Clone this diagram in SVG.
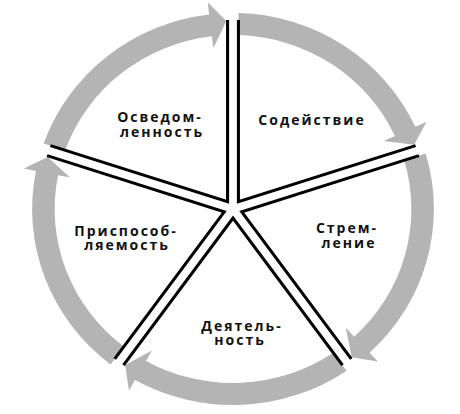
<svg xmlns="http://www.w3.org/2000/svg" width="460" height="414" viewBox="0 0 460 414">
<defs>
<style>
.arr{fill:#b4b4b4;stroke:none}
.edge{fill:none;stroke:#000;stroke-width:3;stroke-linejoin:miter;stroke-miterlimit:10}
.lbl{font-family:"Open Sans","DejaVu Sans",sans-serif;font-weight:700;font-size:14px;letter-spacing:2px;fill:#111;text-anchor:middle}
</style>
<path id="arrow" d="M-184.70,-65.59 A196,196 0 0 1 -23.21,-194.62 L-24.63,-206.54 L-6.5,-188 L-19.18,-160.86 L-20.60,-172.78 A174,174 0 0 0 -163.77,-58.79 Z"/>
<polyline id="sector" points="5.3,-189 5.29,-7.28 178.11,-63.44"/>
</defs>
<rect width="460" height="414" fill="#fff"/>
<g id="connectors" transform="translate(233,209) scale(1.025,1)">
<use href="#arrow" class="arr"/>
<use href="#arrow" class="arr" transform="rotate(72)"/>
<use href="#arrow" class="arr" transform="rotate(144)"/>
<use href="#arrow" class="arr" transform="rotate(216)"/>
<use href="#arrow" class="arr" transform="rotate(288)"/>
</g>
<g id="node-sodeistvie">
<use href="#sector" class="edge" transform="translate(233,209) scale(1.025,1)"/>
<text class="lbl" x="312" y="125">Содействие</text>
</g>
<g id="node-stremlenie">
<use href="#sector" class="edge" transform="translate(233,209) scale(1.025,1) rotate(72)"/>
<text class="lbl" x="347" y="233">Стрем-</text>
<text class="lbl" x="349" y="248">ление</text>
</g>
<g id="node-deyatelnost">
<use href="#sector" class="edge" transform="translate(233,209) scale(1.025,1) rotate(144)"/>
<text class="lbl" x="242" y="331">Деятель-</text>
<text class="lbl" x="240" y="345">ность</text>
</g>
<g id="node-prisposoblyaemost">
<use href="#sector" class="edge" transform="translate(233,209) scale(1.025,1) rotate(216)"/>
<text class="lbl" x="126" y="236">Приспособ-</text>
<text class="lbl" x="127" y="250">ляемость</text>
</g>
<g id="node-osvedomlennost">
<use href="#sector" class="edge" transform="translate(233,209) scale(1.025,1) rotate(288)"/>
<text class="lbl" x="160" y="122">Осведом-</text>
<text class="lbl" x="162" y="137">ленность</text>
</g>
</svg>
